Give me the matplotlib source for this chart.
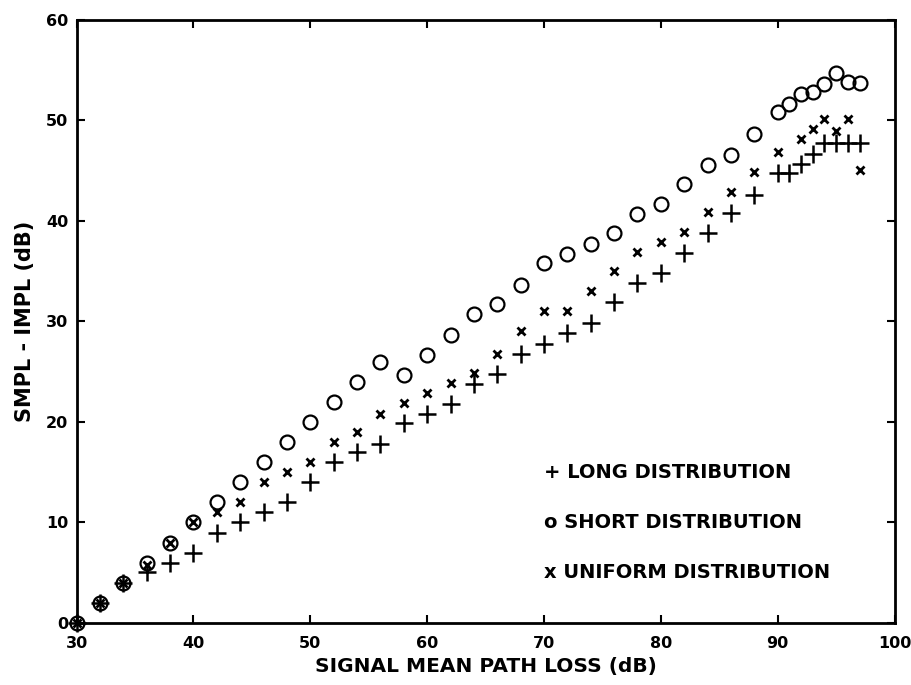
import numpy as np
import matplotlib
matplotlib.use("Agg")
import matplotlib.pyplot as plt

plt.rcParams['font.family'] = ['DejaVu Sans']
plt.rcParams['font.weight'] = 'bold'

# Signal mean path loss (dB)
path_loss = [30, 32, 34, 36, 38, 40, 42, 44, 46, 48, 50, 52, 54, 56, 58, 60,
             62, 64, 66, 68, 70, 72, 74, 76, 78, 80, 82, 84, 86, 88,
             90, 91, 92, 93, 94, 95, 96, 97]

# SMPL - IMPL (dB) for each distribution
long_dist = [0, 2, 4, 5.1, 6, 7, 9, 10, 11, 12, 14, 16, 17, 17.8, 19.9, 20.8,
             21.8, 23.8, 24.8, 26.8, 27.8, 28.8, 29.8, 31.9, 33.8, 34.8, 36.8, 38.8, 40.8, 42.6,
             44.8, 44.8, 45.7, 46.7, 47.8, 47.8, 47.8, 47.8]
short_dist = [0, 2, 4, 6, 8, 10, 12, 14, 16, 18, 20, 22, 24, 26, 24.7, 26.7,
              28.7, 30.7, 31.7, 33.6, 35.8, 36.7, 37.7, 38.8, 40.7, 41.7, 43.7, 45.6, 46.6, 48.6,
              50.8, 51.6, 52.6, 52.8, 53.6, 54.7, 53.8, 53.7]
uniform_dist = [0, 2, 4, 5.8, 8, 10, 11, 12, 14, 15, 16, 18, 19, 20.8, 21.9, 22.9,
                23.9, 24.9, 26.8, 29, 31, 31, 33, 35, 36.9, 37.9, 38.9, 40.9, 42.9, 44.9,
                46.9, np.nan, 48.1, 49.1, 50.1, 48.9, 50.1, 45.1]

legend_labels = ["+ LONG DISTRIBUTION", "o SHORT DISTRIBUTION", "x UNIFORM DISTRIBUTION"]
legend_y = [15, 10, 5]

fig = plt.figure(figsize=(9.11, 6.85), dpi=100)
ax = fig.add_axes([0.084, 0.0905, 0.898, 0.8805])

ax.plot(path_loss, short_dist, linestyle='none', marker='o', markersize=10,
        markerfacecolor='none', markeredgecolor='black', markeredgewidth=1.6, clip_on=False)
ax.plot(path_loss, long_dist, linestyle='none', marker='+', markersize=13,
        color='black', markeredgewidth=1.8, clip_on=False)
ax.plot(path_loss, uniform_dist, linestyle='none', marker='x', markersize=6,
        color='black', markeredgewidth=2.0, clip_on=False)

ax.set_xlim(30, 100)
ax.set_ylim(0, 60)
ax.set_xticks(np.arange(30, 101, 10))
ax.set_yticks(np.arange(0, 61, 10))
ax.tick_params(direction='in', length=6, width=1.5, top=True, right=True,
               labelsize=11.5)
ax.tick_params(axis='x', pad=9)
ax.tick_params(axis='y', pad=6)
for lbl in ax.get_xticklabels() + ax.get_yticklabels():
    lbl.set_fontweight('bold')
for sp in ax.spines.values():
    sp.set_linewidth(2.0)

ax.set_xlabel("SIGNAL MEAN PATH LOSS (dB)", fontsize=14.5, fontweight='bold', labelpad=5)
ax.set_ylabel("SMPL - IMPL (dB)", fontsize=15, fontweight='bold', labelpad=8)

for text, yv in zip(legend_labels, legend_y):
    ax.text(70, yv, text, fontsize=14, fontweight='bold', va='center', ha='left')

fig.savefig("out.png", dpi=100)
